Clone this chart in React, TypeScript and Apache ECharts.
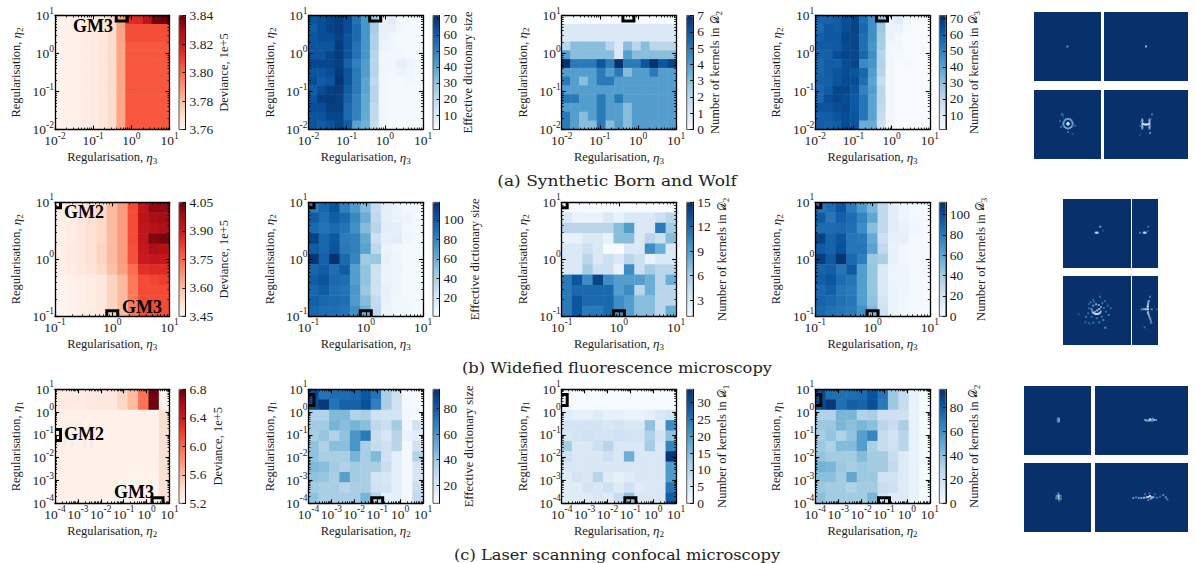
import React, { useEffect, useRef } from "react";
import * as echarts from "echarts";

const SERIF = "Liberation Serif";
const INK = "#1c1c1c";
const REDS = ["#fff5f0", "#fee0d2", "#fcbba1", "#fc9272", "#fb6a4a", "#ef3b2c", "#cb181d", "#a50f15", "#67000d"];
const BLUES = ["#f7fbff", "#deebf7", "#c6dbef", "#9ecae1", "#6baed6", "#4292c6", "#2171b5", "#08519c", "#08306b"];

// ---- heat map values, rows listed from the top of the picture ----
const A1_TOP = [3.761, 3.762, 3.763, 3.764, 3.765, 3.767, 3.771, 3.786, 3.814, 3.815, 3.824, 3.838, 3.84];
const A1_UPPER = [3.761, 3.762, 3.763, 3.764, 3.765, 3.767, 3.771, 3.786, 3.806, 3.806, 3.806, 3.806, 3.806];
const A1_LOWER = [3.761, 3.762, 3.763, 3.764, 3.765, 3.767, 3.771, 3.785, 3.804, 3.804, 3.804, 3.804, 3.804];
const A1 = [A1_TOP, A1_UPPER, A1_UPPER, A1_LOWER, A1_LOWER, A1_LOWER, A1_LOWER, A1_LOWER, A1_LOWER, A1_LOWER, A1_LOWER, A1_LOWER, A1_LOWER];
const A2 = [
  [62, 64, 66, 69, 64, 54, 44, 27, 5, 9, 3, 2, 2],
  [60, 64, 67, 69, 64, 56, 44, 26, 6, 6, 3, 2, 2],
  [62, 64, 64, 68, 62, 56, 44, 24, 6, 4, 2, 2, 2],
  [62, 62, 62, 69, 62, 54, 44, 24, 5, 4, 2, 2, 2],
  [62, 62, 66, 69, 62, 54, 44, 22, 4, 3, 3, 2, 2],
  [66, 66, 66, 68, 58, 50, 42, 22, 4, 4, 7, 5, 4],
  [62, 62, 64, 69, 62, 52, 42, 22, 4, 3, 5, 4, 2],
  [64, 60, 62, 71, 62, 52, 40, 20, 4, 2, 2, 3, 2],
  [60, 64, 68, 69, 60, 52, 40, 22, 4, 2, 2, 2, 2],
  [62, 68, 69, 68, 58, 50, 38, 22, 4, 2, 2, 2, 2],
  [64, 64, 68, 68, 56, 50, 38, 20, 4, 2, 2, 2, 2],
  [62, 62, 66, 66, 56, 50, 38, 20, 4, 2, 2, 2, 2],
  [62, 60, 62, 66, 60, 40, 36, 18, 4, 2, 2, 2, 2],
];
const A3 = [
  [0, 0, 0, 0, 0, 0, 0, 0, 0, 0, 0, 0, 0],
  [1, 1, 1, 1, 1, 1, 1, 1, 1, 1, 1, 1, 1],
  [1, 1, 1, 1, 1, 1, 1, 1, 1, 1, 1, 1, 1],
  [2, 3, 3, 3, 3, 2, 1, 3, 2, 3, 2, 2, 2],
  [4, 3, 3, 3, 3, 3, 1, 4, 3, 3, 3, 3, 3],
  [7, 5, 5, 5, 6, 5, 7, 5, 5, 6, 7, 6, 6.5],
  [4, 4, 4, 4, 5, 4, 5, 3, 4, 4, 5, 4, 4],
  [5, 4, 3, 4, 5, 5, 4, 4, 4, 4, 4, 4, 4],
  [4, 4, 4, 4, 4, 4, 4, 4, 4, 4, 4, 4, 4],
  [5, 5, 4, 4, 5, 4, 5, 4, 4, 4, 4, 4, 4],
  [4, 4, 4, 4, 5, 4, 4, 3, 4, 4, 4, 4, 4],
  [5, 4, 3, 4, 5, 4, 4, 3, 4, 4, 4, 4, 4],
  [5, 4, 3, 3, 5, 3, 4, 3, 4, 4, 4, 4, 4],
];
const A4 = [
  [58, 58, 60, 64, 66, 55, 46, 30, 5, 9, 3, 2, 1],
  [56, 61, 60, 64, 67, 57, 46, 28, 5, 5, 2, 1, 1],
  [59, 61, 61, 66, 66, 55, 46, 26, 5, 3, 1, 1, 1],
  [60, 60, 61, 65, 66, 55, 44, 25, 4, 3, 1, 1, 1],
  [58, 59, 64, 66, 66, 57, 46, 22, 3, 2, 1, 1, 1],
  [57, 60, 59, 64, 66, 48, 44, 23, 3, 1, 2, 1, 1],
  [57, 60, 62, 64, 62, 57, 42, 22, 3, 1, 1, 1, 1],
  [58, 59, 62, 65, 64, 55, 40, 18, 3, 1, 1, 1, 1],
  [57, 60, 66, 66, 62, 50, 42, 21, 3, 1, 1, 1, 1],
  [57, 64, 66, 64, 61, 53, 40, 21, 3, 1, 1, 1, 1],
  [62, 62, 64, 65, 61, 53, 40, 20, 3, 1, 1, 1, 1],
  [59, 60, 62, 64, 62, 53, 40, 18, 3, 1, 1, 1, 1],
  [60, 58, 60, 64, 62, 37, 37, 16, 3, 1, 1, 1, 1],
];
const B1 = [
  [3.47, 3.48, 3.5, 3.52, 3.54, 3.6, 3.66, 3.8, 3.92, 4.0, 4.0],
  [3.47, 3.48, 3.5, 3.52, 3.54, 3.6, 3.66, 3.8, 3.93, 3.97, 3.98],
  [3.47, 3.48, 3.5, 3.52, 3.54, 3.6, 3.66, 3.8, 3.92, 3.94, 3.96],
  [3.47, 3.48, 3.5, 3.52, 3.54, 3.6, 3.66, 3.8, 3.92, 4.02, 4.03],
  [3.47, 3.49, 3.5, 3.52, 3.55, 3.6, 3.66, 3.79, 3.91, 3.96, 3.95],
  [3.47, 3.49, 3.5, 3.52, 3.55, 3.6, 3.66, 3.79, 3.9, 3.92, 3.91],
  [3.47, 3.48, 3.5, 3.51, 3.54, 3.59, 3.65, 3.74, 3.85, 3.86, 3.86],
  [3.45, 3.46, 3.47, 3.48, 3.5, 3.55, 3.6, 3.72, 3.8, 3.81, 3.82],
  [3.45, 3.46, 3.47, 3.48, 3.5, 3.55, 3.6, 3.72, 3.8, 3.8, 3.8],
  [3.45, 3.46, 3.47, 3.48, 3.5, 3.55, 3.6, 3.72, 3.8, 3.8, 3.8],
  [3.45, 3.46, 3.47, 3.48, 3.5, 3.55, 3.6, 3.72, 3.8, 3.8, 3.8],
];
const B2 = [
  [84, 94, 102, 82, 70, 52, 30, 12, 8, 4, 4],
  [98, 90, 98, 92, 78, 60, 32, 12, 8, 7, 3],
  [92, 88, 92, 88, 75, 52, 35, 14, 12, 5, 3],
  [110, 94, 100, 84, 82, 62, 26, 11, 14, 6, 4],
  [98, 94, 102, 85, 82, 66, 32, 8, 5, 3, 3],
  [116, 96, 117, 92, 80, 44, 46, 10, 6, 3, 4],
  [94, 98, 90, 98, 68, 48, 24, 8, 7, 3, 4],
  [98, 102, 92, 90, 68, 48, 24, 8, 6, 3, 3],
  [94, 98, 90, 88, 72, 46, 24, 10, 6, 3, 3],
  [96, 94, 92, 90, 70, 52, 30, 9, 5, 4, 3],
  [94, 90, 90, 88, 75, 58, 32, 8, 5, 5, 3],
];
const B3 = [
  [1, 1, 1, 1, 1, 1, 1, 1, 1, 1, 1],
  [3, 2, 2, 2, 3, 2, 3, 3, 3, 4, 5],
  [5, 5, 5, 5, 5, 7, 9, 3, 3, 11, 6],
  [2, 2, 3, 3, 2, 7, 7, 3, 5, 4, 7],
  [3, 3, 4, 3, 1, 1, 3, 3, 10, 8, 3],
  [3, 3, 5, 3, 4, 3, 5, 4, 2, 3, 3],
  [3, 3, 6, 4, 4, 2, 10, 4, 6, 5, 5],
  [11, 13, 10, 14, 10, 9, 9, 9, 8, 5, 8],
  [11, 12, 12, 12, 12, 9, 10, 5, 8, 5, 5],
  [11, 13, 12, 12, 12, 10, 9, 7, 7, 5, 5],
  [11, 13, 11, 11, 12, 10, 9, 7, 7, 5, 8],
];
const B4 = [
  [82, 86, 96, 80, 66, 52, 30, 12, 6, 3, 2],
  [94, 82, 92, 86, 76, 60, 30, 12, 6, 3, 2],
  [86, 86, 88, 85, 72, 48, 30, 12, 8, 4, 2],
  [104, 90, 96, 82, 80, 58, 24, 10, 10, 2, 2],
  [94, 90, 98, 82, 82, 62, 30, 8, 4, 2, 2],
  [106, 94, 110, 88, 78, 42, 38, 8, 4, 2, 2],
  [90, 92, 82, 94, 64, 44, 16, 6, 5, 2, 2],
  [92, 96, 86, 82, 64, 44, 16, 6, 5, 2, 2],
  [88, 92, 82, 80, 64, 44, 16, 7, 5, 2, 2],
  [90, 88, 84, 82, 64, 46, 20, 7, 4, 2, 2],
  [88, 84, 82, 80, 70, 50, 22, 6, 3, 2, 1],
];
const C1 = [
  [5.3, 5.3, 5.3, 5.31, 5.32, 5.33, 5.45, 5.6, 5.95, 6.78, 5.2],
  [5.3, 5.3, 5.3, 5.31, 5.32, 5.33, 5.45, 5.6, 5.95, 6.78, 5.2],
  [5.26, 5.26, 5.26, 5.25, 5.25, 5.24, 5.24, 5.24, 5.24, 5.24, 5.4],
  [5.26, 5.26, 5.26, 5.25, 5.25, 5.24, 5.24, 5.24, 5.24, 5.24, 5.4],
  [5.26, 5.26, 5.26, 5.25, 5.25, 5.24, 5.24, 5.24, 5.24, 5.24, 5.4],
  [5.26, 5.25, 5.25, 5.25, 5.24, 5.24, 5.24, 5.24, 5.24, 5.24, 5.4],
  [5.25, 5.25, 5.25, 5.24, 5.24, 5.24, 5.23, 5.23, 5.23, 5.23, 5.4],
  [5.25, 5.25, 5.25, 5.24, 5.24, 5.23, 5.23, 5.23, 5.23, 5.23, 5.4],
  [5.25, 5.25, 5.24, 5.24, 5.24, 5.23, 5.23, 5.22, 5.22, 5.22, 5.4],
  [5.25, 5.25, 5.24, 5.24, 5.23, 5.23, 5.22, 5.22, 5.22, 5.22, 5.4],
  [5.25, 5.24, 5.24, 5.24, 5.23, 5.23, 5.22, 5.22, 5.22, 5.22, 5.4],
];
const C2 = [
  [85, 72, 74, 74, 76, 82, 72, 36, 25, 8, 2],
  [85, 92, 72, 78, 78, 84, 68, 36, 24, 8, 2],
  [34, 34, 46, 46, 34, 36, 24, 22, 22, 8, 7],
  [38, 38, 48, 44, 48, 44, 30, 26, 38, 10, 23],
  [36, 41, 34, 42, 60, 70, 26, 20, 32, 12, 15],
  [42, 34, 44, 44, 60, 36, 28, 24, 32, 8, 24],
  [42, 36, 36, 36, 48, 36, 46, 24, 14, 8, 34],
  [46, 44, 38, 34, 38, 36, 36, 26, 14, 8, 21],
  [42, 41, 36, 56, 38, 36, 22, 20, 14, 8, 21],
  [38, 36, 36, 32, 36, 36, 24, 22, 14, 8, 26],
  [42, 36, 36, 36, 36, 48, 32, 14, 14, 8, 29],
];
const C3 = [
  [1, 0, 0, 0, 0, 0, 0, 0, 0, 0, 0],
  [1, 0, 0, 0, 0, 0, 0, 0, 0, 0, 0],
  [4, 3, 3, 4, 3, 3, 2, 2, 3, 5, 6],
  [6, 6, 6, 6, 5, 6, 5, 5, 14, 4, 22],
  [5, 6, 7, 6, 6, 7, 6, 6, 11, 6, 14],
  [12, 5, 5, 7, 10, 5, 5, 5, 12, 5, 23],
  [7, 5, 5, 5, 7, 5, 17, 5, 5, 5, 33],
  [5, 5, 5, 5, 5, 5, 5, 5, 5, 5, 20],
  [4, 6, 5, 10, 4, 3, 4, 5, 5, 5, 20],
  [4, 4, 6, 5, 7, 4, 7, 4, 5, 5, 25],
  [4, 4, 4, 5, 4, 8, 14, 5, 5, 5, 28],
];
const C4 = [
  [85, 72, 72, 72, 74, 82, 70, 36, 24, 7, 1],
  [85, 92, 72, 78, 76, 84, 68, 36, 24, 7, 1],
  [30, 30, 44, 44, 30, 32, 20, 20, 20, 7, 1],
  [36, 36, 44, 40, 44, 40, 27, 22, 32, 7, 1],
  [33, 38, 30, 38, 54, 64, 23, 18, 28, 7, 1],
  [36, 31, 42, 42, 54, 32, 23, 20, 27, 7, 1],
  [38, 34, 34, 34, 42, 34, 34, 22, 12, 7, 1],
  [46, 44, 36, 33, 36, 34, 34, 25, 12, 7, 1],
  [40, 40, 34, 50, 36, 36, 20, 18, 12, 7, 1],
  [36, 34, 34, 30, 34, 34, 22, 20, 12, 7, 1],
  [40, 34, 34, 34, 34, 44, 18, 12, 12, 7, 1],
];

// ---- colour bar scales and tick labels ----
const MATRICES = [A1, A2, A3, A4, B1, B2, B3, B4, C1, C2, C3, C4];
const CB_MIN = [3.76, 1, 0, 1, 3.45, 1, 1, 0, 5.2, 6, 0, 0];
const CB_MAX = [3.84, 72, 7, 72, 4.05, 118, 15, 112, 6.8, 95, 34, 95];
const CB_TICKS = [
  [3.76, 3.78, 3.8, 3.82, 3.84],
  [10, 20, 30, 40, 50, 60, 70],
  [0, 1, 2, 3, 4, 5, 6, 7],
  [10, 20, 30, 40, 50, 60, 70],
  [3.45, 3.6, 3.75, 3.9, 4.05],
  [20, 40, 60, 80, 100],
  [3, 6, 9, 12, 15],
  [0, 20, 40, 60, 80, 100],
  [5.2, 5.6, 6.0, 6.4, 6.8],
  [20, 40, 60, 80],
  [0, 5, 10, 15, 20, 25, 30],
  [0, 20, 40, 60, 80],
];
const CB_DECIMALS = [2, 0, 0, 0, 2, 0, 0, 0, 1, 0, 0, 0];
const DEVIANCE = "{t|Deviance, 1e+5}";
const EFFECTIVE = "{t|Effective dictionary size}";
const kernels = (n: number) => `{t|Number of kernels in }{d|\u{1D49F}}{u|${n}}`;
const CB_NAMES = [
  DEVIANCE, EFFECTIVE, kernels(2), kernels(3),
  DEVIANCE, EFFECTIVE, kernels(2), kernels(3),
  DEVIANCE, EFFECTIVE, kernels(1), kernels(2),
];
const X_NAMES = ["3", "3", "2"];
const Y_NAMES = ["2", "2", "1"];
const LOG_MIN = [0.01, 0.1, 0.0001];
const LOG_MAX = [10, 10, 10];
const CELL_COUNT = [13, 11, 11];
const MARKERS_A = [[0.56, 10]];
const MARKERS_B = [[0.1, 10], [1, 0.1]];
const MARKERS_C_DEV = [[0.0001, 0.1], [3, 0.0001]];
const MARKERS_C = [[0.0001, 3.4], [0.1, 0.0001]];
const MARKERS = [
  MARKERS_A, MARKERS_A, MARKERS_A, MARKERS_A,
  MARKERS_B, MARKERS_B, MARKERS_B, MARKERS_B,
  MARKERS_C_DEV, MARKERS_C, MARKERS_C, MARKERS_C,
];
const CAPTIONS = ["(a) Synthetic Born and Wolf", "(b) Widefied fluorescence microscopy", "(c) Laser scanning confocal microscopy"];

// ---- speckle images: [column, row, brightness] in image pixels ----
const IMG_A_TL = [[33.5, 34.5, 0.5]];
const IMG_A_TR = [[42, 34.5, 0.75]];
const IMG_A_BL = [
  [34, 29, 0.6], [37.3, 30.4, 0.6], [38.7, 33.7, 0.6], [37.3, 37, 0.6], [34, 38.4, 0.6], [30.7, 37, 0.6], [29.3, 33.7, 0.6], [30.7, 30.4, 0.6],
  [32, 29.3, 0.5], [36, 29.3, 0.5], [38.3, 32, 0.5], [38.3, 35.5, 0.5], [36, 38, 0.5], [32, 38, 0.5], [29.7, 35.5, 0.5], [29.7, 32, 0.5],
  [34, 33.7, 1], [33, 33.7, 0.8], [35, 33.7, 0.8], [34, 32.7, 0.8], [34, 34.7, 0.8],
  [27.7, 24.5, 0.3], [28.7, 24.5, 0.3], [26, 31, 0.25], [27, 37, 0.3], [41, 36, 0.25], [34, 42, 0.3], [38.5, 44, 0.2], [29, 27, 0.15],
];
const IMG_A_BR = [
  [38.3, 29.5, 0.6], [38.3, 31, 0.65], [38.3, 32.5, 0.65], [38.3, 34, 0.7], [38.3, 35.5, 0.65], [38.3, 37, 0.65], [38.3, 38.5, 0.6],
  [45.5, 29.5, 0.6], [45.5, 31, 0.65], [45.5, 32.5, 0.65], [45.5, 34, 0.7], [45.5, 35.5, 0.65], [45.5, 37, 0.65], [45.5, 38.5, 0.6],
  [39.5, 34, 0.9], [40.7, 34.5, 0.9], [42, 34.5, 1], [43.2, 34.5, 0.9], [44.4, 34, 0.9],
  [48, 24.5, 0.35], [46, 43, 0.45], [36, 36, 0.2], [37, 32, 0.2], [36, 45, 0.15], [47, 29, 0.2],
];
const IMG_B_TL = [[32.7, 33.7, 0.7], [33.7, 33.7, 0.9], [34.7, 33.7, 0.7], [37.3, 27.7, 0.6], [40.3, 31.7, 0.2]];
const IMG_B_TR = [[11.7, 33.7, 0.7], [12.7, 33.7, 0.9], [13.7, 33.7, 0.7], [8, 33.7, 0.35], [16.3, 27.7, 0.3], [16, 32, 0.2]];
const IMG_B_BL = [
  [29.7, 36.3, 0.75], [31.7, 37.7, 0.85], [33.7, 38, 0.85], [35.7, 37.7, 0.85], [37.7, 35.7, 0.7],
  [30.7, 37, 0.7], [32.7, 38, 0.8], [34.7, 38, 0.8], [36.7, 37, 0.75], [29, 34.5, 0.5],
  [30.3, 29.7, 0.55], [33, 28.3, 0.6], [35.7, 29, 0.6], [38, 31, 0.5], [28.5, 33, 0.45], [36.3, 33, 0.7], [34.3, 34.3, 0.7], [32.3, 35.7, 0.6],
  [26.3, 32.3, 0.35], [27.7, 26.3, 0.35], [30.3, 24, 0.3], [37, 20.7, 0.3], [42, 25, 0.3], [44.7, 29.7, 0.3], [47.7, 32.3, 0.3], [45.7, 39, 0.35],
  [40.3, 44, 0.4], [36.3, 46.3, 0.35], [30.3, 46.7, 0.35], [26.3, 47.3, 0.3], [22.3, 46.3, 0.3], [23, 40.7, 0.35], [25.3, 37.3, 0.3], [15.7, 38.3, 0.2],
  [42.3, 51.7, 0.5], [39.3, 27.3, 0.35], [43, 35.7, 0.3], [28.7, 40.7, 0.3], [33.7, 42.3, 0.35], [38.7, 40.7, 0.35], [26, 28, 0.25], [31, 26, 0.25], [41, 32, 0.3],
];
const IMG_B_BR = [
  [18, 20.7, 0.4], [16.7, 25, 0.6], [16, 28.3, 0.7], [15.7, 31, 0.8], [16, 33.3, 1], [16, 36.3, 0.8], [17, 39.7, 0.6], [18.3, 43, 0.5], [19.3, 47, 0.4],
  [16.3, 26.7, 0.6], [15.8, 30, 0.75], [16.4, 38, 0.7], [17.6, 41.4, 0.55], [18.8, 45, 0.45],
  [9.7, 33.3, 0.5], [12, 33.3, 0.6], [14, 33.3, 0.8], [19.7, 33.3, 0.5], [24.7, 33.3, 0.2], [12.7, 51.3, 0.3],
];
const IMG_C_TL = [[34.7, 32.5, 0.7], [34.7, 34, 0.8], [34.7, 35.5, 0.7], [33.7, 34, 0.4], [33.7, 35.5, 0.3], [33.7, 32.5, 0.3]];
const IMG_C_TR = [
  [50.3, 34, 0.6], [51.7, 34.7, 0.6], [53.3, 34, 0.4], [55, 33.3, 0.8], [56.3, 34, 0.7], [57.7, 32.7, 0.5], [59, 34, 0.7], [61, 34, 0.5], [57, 35, 0.4], [54.3, 34.7, 0.7],
];
const IMG_C_BL = [
  [34.7, 32, 0.7], [34.7, 33.7, 1], [34.7, 35.7, 0.9], [32.7, 33, 0.5], [32.3, 35.3, 0.5], [36.7, 33, 0.4], [36.7, 35.7, 0.5], [34.3, 30.3, 0.4], [35.3, 37.7, 0.3],
];
const IMG_C_BR = [
  [38.3, 35, 0.5], [41, 34.3, 0.35], [43.7, 35, 0.5], [46.3, 35, 0.6], [49, 34.7, 0.7], [51.7, 34.3, 0.8], [53.3, 34, 0.9], [55, 33, 1], [56.7, 34.3, 0.9],
  [55.7, 35.7, 0.6], [53.3, 37, 0.4], [58.3, 34.3, 0.7], [61.7, 34.7, 0.4], [65, 33.7, 0.3], [68.3, 32, 0.4], [70.7, 34.3, 0.5], [72.3, 36.3, 0.4], [50, 31.3, 0.3], [54.3, 30.3, 0.3], [60, 31.3, 0.25],
];
const IMAGES = [IMG_A_TL, IMG_A_TR, IMG_A_BL, IMG_A_BR, IMG_B_TL, IMG_B_TR, IMG_B_BL, IMG_B_BR, IMG_C_TL, IMG_C_TR, IMG_C_BL, IMG_C_BR];

// ---- layout ----
const ROW_TOP = [15.5, 202.3, 389.3];
const PANEL_H = 114;
const PANEL_W = 114.5;
const PANEL_X = [55, 308.5, 561.7, 815.3];
const CB_X = [179, 433, 686.7, 939.3];
const CB_W = 6.5;
const CB_GAP = [29, 20, 14, 20, 29, 27, 21, 27, 24, 21, 21, 20];
const IMG_FRAMES = [
  [1034, 12, 67, 69], [1104, 12, 84, 69], [1034, 90, 67, 69], [1104, 90, 84, 69],
  [1063, 199, 68, 69], [1132, 199, 26, 69], [1063, 276, 68, 69], [1132, 276, 26, 69],
  [1024, 386, 67, 69], [1095, 386, 93, 69], [1024, 463, 67, 69], [1095, 463, 93, 69],
];
const CAPTION_Y = [181, 368, 555];
const CAPTION_STRETCH = [1.1, 1.05, 1.05];
const GM_LABELS = [
  ["GM3", 73, 26], ["GM2", 64, 212], ["GM3", 122, 307], ["GM2", 64, 434], ["GM3", 114, 492],
];

const tickRich = {
  b: { fontFamily: SERIF, fontSize: 13.5, color: INK, lineHeight: 20 },
  s: { fontFamily: SERIF, fontSize: 9.5, color: INK, lineHeight: 10, verticalAlign: "top" },
};
const nameRich = {
  t: { fontFamily: SERIF, fontSize: 12.5, color: INK, lineHeight: 16 },
  e: { fontFamily: SERIF, fontStyle: "italic", fontSize: 13, color: INK, lineHeight: 16 },
  d: { fontFamily: "DejaVu Sans", fontSize: 11, color: INK, lineHeight: 16 },
  u: { fontFamily: SERIF, fontSize: 9, color: INK, lineHeight: 9, verticalAlign: "bottom" },
};
const powerLabel = (v: number) => {
  const p = Math.round(Math.log10(v));
  return `{b|10}{s|${p}}`;
};
const axisName = (sub: string) => `{t|Regularisation, }{e|\u03b7}{u|${sub}}`;

function logAxis(grid: number, row: number, position: string, labelled: boolean, name: string | null, gap: number) {
  return {
    type: "log",
    logBase: 10,
    gridIndex: grid,
    position,
    min: LOG_MIN[row],
    max: LOG_MAX[row],
    z: 6,
    splitLine: { show: false },
    axisLine: { show: true, onZero: false, lineStyle: { color: "#000", width: 1.3 } },
    axisTick: { show: true, inside: true, length: 4, lineStyle: { color: "#000", width: 1.1 } },
    minorTick: { show: true, splitNumber: 9, length: 2, lineStyle: { color: "#000", width: 0.8 } },
    minorSplitLine: { show: false },
    axisLabel: labelled
      ? { show: true, formatter: powerLabel, rich: tickRich, margin: 1, showMinLabel: true, showMaxLabel: true, hideOverlap: false }
      : { show: false },
    name: name ?? undefined,
    nameLocation: "middle",
    nameGap: gap,
    nameTextStyle: { rich: nameRich },
    silent: true,
  };
}

function buildOption() {
  const grid: any[] = [];
  const xAxis: any[] = [];
  const yAxis: any[] = [];
  const series: any[] = [];
  const visualMap: any[] = [];
  const graphic: any[] = [];

  MATRICES.forEach((matrix, i) => {
    const row = Math.floor(i / 4);
    const col = i % 4;
    const n = CELL_COUNT[row];
    const cats = matrix[0].map((_, k) => String(k));
    grid.push({ left: PANEL_X[col], top: ROW_TOP[row], width: PANEL_W, height: PANEL_H, containLabel: false });
    xAxis.push({ type: "category", gridIndex: i, data: cats, show: false });
    xAxis.push(logAxis(i, row, "bottom", true, axisName(X_NAMES[row]), 19.5));
    xAxis.push(logAxis(i, row, "top", false, null, 0));
    yAxis.push({ type: "category", gridIndex: i, data: cats, show: false });
    yAxis.push(logAxis(i, row, "left", true, axisName(Y_NAMES[row]), 31));
    yAxis.push(logAxis(i, row, "right", false, null, 0));
    const cells: number[][] = [];
    matrix.forEach((vals, r) => vals.forEach((v, c) => cells.push([c, n - 1 - r, v])));
    series.push({
      type: "heatmap",
      xAxisIndex: 3 * i,
      yAxisIndex: 3 * i,
      data: cells,
      progressive: 0,
      itemStyle: { borderWidth: 0 },
      emphasis: { disabled: true },
      silent: true,
      z: 2,
    });
  });

  MATRICES.forEach((_, i) => {
    series.push({
      type: "custom",
      xAxisIndex: 3 * i + 1,
      yAxisIndex: 3 * i + 1,
      data: MARKERS[i],
      encode: { x: 0, y: 1 },
      silent: true,
      z: 3,
      renderItem: (params: any, api: any) => {
        const p = api.coord([api.value(0), api.value(1)]);
        const cs = params.coordSys;
        return {
          type: "rect",
          shape: { x: p[0] - 5.5, y: p[1] - 5.5, width: 11, height: 11 },
          style: { fill: "none", stroke: "#000", lineWidth: 3 },
          clipPath: { type: "rect", shape: { x: cs.x, y: cs.y, width: cs.width, height: cs.height } },
        };
      },
    });
  });

  MATRICES.forEach((_, i) => {
    const row = Math.floor(i / 4);
    const col = i % 4;
    const g = grid.length;
    const colours = i % 4 === 0 ? REDS : BLUES;
    const fmt = (v: number) => v.toFixed(CB_DECIMALS[i]);
    grid.push({
      left: CB_X[col], top: ROW_TOP[row], width: CB_W, height: PANEL_H,
      show: true, borderColor: "#555", borderWidth: 1, backgroundColor: "transparent", z: 6,
    });
    xAxis.push({ type: "value", gridIndex: g, show: false, min: 0, max: 1 });
    yAxis.push({
      type: "value",
      gridIndex: g,
      position: "right",
      min: CB_MIN[i],
      max: CB_MAX[i],
      z: 7,
      splitLine: { show: false },
      axisLine: { show: true, onZero: false, lineStyle: { color: "#111", width: 1 } },
      axisTick: { show: true, inside: true, length: 3, customValues: CB_TICKS[i], lineStyle: { color: "#111", width: 1 } },
      axisLabel: {
        show: true, customValues: CB_TICKS[i], formatter: fmt, margin: 4,
        fontFamily: SERIF, fontSize: 13.5, color: INK,
      },
      name: CB_NAMES[i],
      nameLocation: "middle",
      nameRotate: 90,
      nameGap: CB_GAP[i],
      nameTextStyle: { rich: nameRich },
    });
    visualMap.push({
      type: "continuous",
      seriesIndex: i,
      dimension: 2,
      min: CB_MIN[i],
      max: CB_MAX[i],
      left: CB_X[col],
      top: ROW_TOP[row],
      itemWidth: CB_W,
      itemHeight: PANEL_H,
      padding: 0,
      calculable: false,
      realtime: false,
      hoverLink: false,
      silent: true,
      text: [],
      showLabel: false,
      inRange: { color: colours },
    });
  });

  const imageSeries: number[] = [];
  IMAGES.forEach((points, i) => {
    const [left, top, w, h] = IMG_FRAMES[i];
    const g = grid.length;
    grid.push({ left, top, width: w, height: h, show: true, backgroundColor: "#08306b", borderWidth: 0 });
    const ax = xAxis.length;
    const ay = yAxis.length;
    xAxis.push({ type: "value", gridIndex: g, show: false, min: 0, max: w });
    yAxis.push({ type: "value", gridIndex: g, show: false, min: 0, max: h, inverse: true });
    imageSeries.push(series.length);
    series.push({
      type: "scatter",
      xAxisIndex: ax,
      yAxisIndex: ay,
      data: points,
      symbol: "rect",
      symbolSize: 2,
      silent: true,
    });
  });
  visualMap.push({
    type: "continuous",
    show: false,
    seriesIndex: imageSeries,
    dimension: 2,
    min: 0,
    max: 1,
    inRange: { color: ["#08306b", "#2171b5", "#6baed6", "#c6dbef", "#ffffff"] },
  });

  CAPTIONS.forEach((text, i) => {
    graphic.push({
      type: "text",
      x: 617,
      y: CAPTION_Y[i],
      scaleX: CAPTION_STRETCH[i],
      silent: true,
      style: { text, fontFamily: "DejaVu Serif", fontSize: 15.5, fill: "#222", textAlign: "center", textVerticalAlign: "middle" },
    });
  });
  GM_LABELS.forEach(([text, x, y]) => {
    graphic.push({
      type: "text",
      x,
      y,
      silent: true,
      z: 20,
      style: { text, fontFamily: SERIF, fontWeight: "bold", fontSize: 18, fill: "#000", textAlign: "left", textVerticalAlign: "middle" },
    });
  });

  return {
    animation: false,
    backgroundColor: "#fff",
    textStyle: { fontFamily: SERIF },
    grid,
    xAxis,
    yAxis,
    series,
    visualMap,
    graphic,
  };
}

export default function App() {
  const ref = useRef<HTMLDivElement>(null);
  useEffect(() => {
    const chart = echarts.init(ref.current!, null, { renderer: "svg" });
    chart.setOption(buildOption() as any);
    return () => chart.dispose();
  }, []);
  return <div ref={ref} style={{ position: "absolute", left: 0, top: 0, width: 1196, height: 563 }} />;
}
